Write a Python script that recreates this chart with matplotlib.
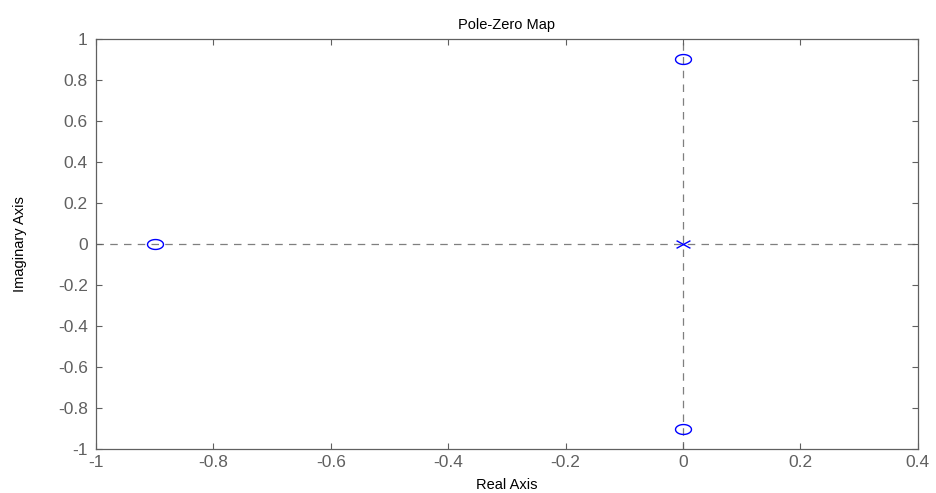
import numpy as np
import matplotlib
matplotlib.use("Agg")
import matplotlib.pyplot as plt
from matplotlib.path import Path

zeros_re = [-0.9, 0.0, 0.0]
zeros_im = [0.0, 0.9, -0.9]
poles_re = [0.0]
poles_im = [0.0]
xticks = [-1, -0.8, -0.6, -0.4, -0.2, 0, 0.2, 0.4]
yticks = [-1, -0.8, -0.6, -0.4, -0.2, 0, 0.2, 0.4, 0.6, 0.8, 1]

plt.rcParams['font.family'] = ['Liberation Sans', 'DejaVu Sans']

fig = plt.figure(figsize=(9.37, 4.93), dpi=100)
ax = fig.add_axes([0.1025, 0.0892, 0.877, 0.832])

# dashed axes lines
ax.axhline(0, color='#7f7f7f', lw=0.9, ls=(0, (6, 5)), zorder=1)
ax.axvline(0, color='#7f7f7f', lw=0.9, ls=(0, (6, 5)), zorder=1)

# ellipse marker for zeros
t = np.linspace(0, 2 * np.pi, 60)
ell = Path(np.column_stack([np.cos(t), 0.62 * np.sin(t)]))
xmark = Path([(-1, -0.55), (1, 0.55), (-1, 0.55), (1, -0.55)],
             [Path.MOVETO, Path.LINETO, Path.MOVETO, Path.LINETO])

ax.plot(zeros_re, zeros_im, ls='none', marker=ell, markersize=11.5,
        markerfacecolor='none', markeredgecolor='#0000ff', markeredgewidth=1.0, zorder=3)
ax.plot(poles_re, poles_im, ls='none', marker=xmark, markersize=10,
        markeredgecolor='#0000ff', markeredgewidth=1.0, zorder=3)

ax.set_xlim(-1, 0.4)
ax.set_ylim(-1, 1)
ax.set_xticks(xticks)
ax.set_yticks(yticks)
ax.set_xticklabels([f"{v:g}" for v in xticks])
ax.set_yticklabels([f"{v:g}" for v in yticks])
ax.tick_params(direction='in', top=True, right=True, length=4, width=0.8,
               colors='#606060', labelsize=12.5, labelcolor='#606060')
ax.tick_params(axis='y', pad=6)
ax.tick_params(axis='x', pad=4)
for s in ax.spines.values():
    s.set_color('#606060')
    s.set_linewidth(0.9)

ax.set_title('Pole-Zero Map', fontsize=10.5, pad=7)
ax.set_xlabel('Real Axis', fontsize=10.5, labelpad=6)
ax.set_ylabel('Imaginary Axis', fontsize=10.5, labelpad=22)

fig.savefig('out.png', dpi=100)
